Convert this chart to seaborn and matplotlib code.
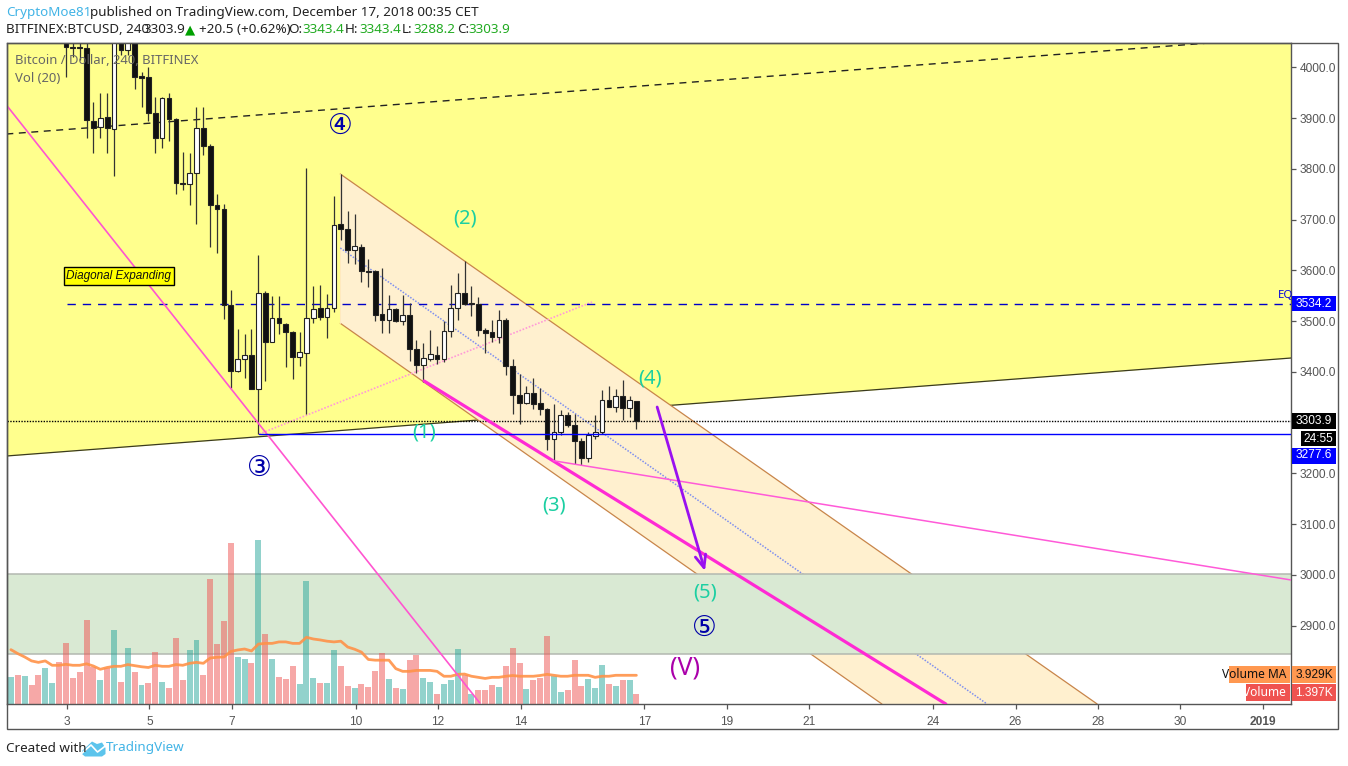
import numpy as np
import pandas as pd
import matplotlib
matplotlib.use('Agg')
import matplotlib.pyplot as plt
from matplotlib.patches import Rectangle, Polygon
import seaborn as sns

# Candles from the picture, bar 8 onwards (earlier bars sit above the visible range)
opens = [4060, 4040, 4040, 4039, 3895, 3882, 3903, 3878, 4060, 4035, 4060, 3982, 3981, 3911, 3860, 3940, 3898, 3773, 3771, 3791,
         3880, 3846, 3728, 3720, 3531, 3402, 3426, 3433, 3367, 3555, 3459, 3506, 3494, 3479, 3429, 3438, 3506, 3525, 3508, 3525,
         3691, 3681, 3641, 3647, 3599, 3598, 3515, 3502, 3523, 3500, 3513, 3446, 3413, 3426, 3434, 3426, 3480, 3525, 3555, 3535,
         3534, 3483, 3478, 3468, 3502, 3411, 3354, 3338, 3358, 3338, 3326, 3268, 3281, 3315, 3295, 3263, 3230, 3274, 3282, 3344,
         3331, 3353, 3328, 3343.4]
highs = [4120, 4100, 4100, 4060, 3932, 3949, 3949, 4100, 4100, 4100, 4100, 3991, 4001, 3941, 3941, 3949, 3900, 3834, 3831, 3922,
         3921, 3848, 3750, 3731, 3561, 3485, 3475, 3485, 3630, 3559, 3550, 3550, 3496, 3481, 3479, 3801, 3569, 3571, 3553, 3747,
         3790, 3716, 3711, 3652, 3622, 3600, 3605, 3551, 3525, 3551, 3536, 3462, 3456, 3483, 3452, 3500, 3571, 3594, 3618, 3569,
         3547, 3486, 3502, 3522, 3506, 3425, 3396, 3372, 3388, 3368, 3328, 3337, 3325, 3321, 3318, 3270, 3282, 3315, 3364, 3372,
         3366, 3384, 3353, 3343.4]
lows = [3981, 4021, 4014, 3860, 3832, 3861, 3832, 3786, 4024, 4024, 3957, 3922, 3895, 3832, 3842, 3855, 3750, 3758, 3729, 3691,
        3828, 3647, 3634, 3505, 3368, 3400, 3388, 3367, 3278, 3383, 3458, 3475, 3409, 3387, 3412, 3317, 3497, 3502, 3467, 3518,
        3660, 3615, 3613, 3577, 3568, 3500, 3477, 3477, 3498, 3492, 3422, 3397, 3381, 3422, 3416, 3420, 3469, 3502, 3532, 3511,
        3471, 3438, 3458, 3456, 3393, 3318, 3298, 3337, 3326, 3315, 3246, 3225, 3275, 3292, 3219, 3217, 3223, 3268, 3278, 3330,
        3322, 3305, 3312, 3288.2]
closes = [4041, 4038, 4038, 3896, 3881, 3901, 3880, 4060, 4035, 4060, 3980, 3979, 3911, 3860, 3940, 3898, 3773, 3771, 3791, 3880,
          3846, 3728, 3720, 3531, 3402, 3426, 3433, 3367, 3555, 3459, 3506, 3496, 3479, 3430, 3439, 3506, 3523, 3508, 3525, 3689,
          3681, 3641, 3649, 3598, 3596, 3513, 3502, 3523, 3500, 3513, 3446, 3413, 3427, 3435, 3425, 3480, 3525, 3555, 3534, 3533,
          3482, 3476, 3468, 3502, 3411, 3354, 3338, 3358, 3336, 3326, 3268, 3281, 3315, 3295, 3263, 3230, 3276, 3282, 3344, 3331,
          3353, 3328, 3345, 3303.9]

# Volume in thousands for all 92 bars, 1 = up bar colour, 0 = down bar colour
volumes = [3.7, 4.0, 3.8, 2.6, 4.0, 4.9, 2.9, 5.75, 8.35, 3.55, 4.4, 11.5, 5.1, 3.3, 4.9, 10.1, 3.0, 7.7, 4.4, 2.6, 2.9, 7.1, 3.0,
           2.2, 9.0, 3.3, 7.4, 8.8, 4.0, 17.1, 8.2, 11.4, 22.05, 6.4, 6.2, 5.6, 22.5, 9.6, 6.2, 3.7, 3.4, 5.2, 2.7, 16.85, 3.55, 2.9,
           2.9, 7.4, 5.2, 2.5, 2.2, 2.7, 2.3, 4.5, 7.0, 3.4, 2.2, 2.05, 6.0, 6.75, 3.55, 3.0, 1.4, 2.7, 3.3, 7.5, 4.0, 1.4, 1.9, 1.9,
           2.6, 2.3, 5.2, 7.7, 5.6, 2.05, 3.3, 3.55, 9.3, 3.8, 1.65, 1.9, 6.0, 2.5, 3.4, 2.2, 5.3, 2.7, 2.5, 3.3, 3.3, 1.4]
vol_up = [1, 0, 1, 0, 0, 1, 1, 0, 0, 0, 0, 0, 0, 1, 0, 1, 0, 1, 0, 1, 0, 0, 1,
          0, 0, 0, 1, 1, 0, 0, 0, 0, 0, 1, 1, 0, 1, 0, 1, 0, 0, 0, 1, 1, 1, 0,
          1, 1, 0, 0, 1, 0, 0, 0, 0, 1, 0, 1, 0, 0, 1, 1, 0, 1, 1, 1, 0, 1, 0, 0,
          0, 1, 0, 0, 0, 1, 0, 0, 0, 1, 1, 0, 0, 0, 1, 1, 1, 0, 1, 0, 1, 0]
vol_ma = [7.44, 6.9, 6.44, 5.9, 5.7, 5.9, 5.3, 5.3, 5.43, 5.3, 5.3, 5.5, 5.2, 4.75, 5.0, 5.16, 5.16, 5.4, 5.25, 5.1, 5.0, 5.3, 5.16,
          5.16, 5.4, 5.3, 5.57, 5.7, 5.57, 6.3, 6.4, 6.44, 7.2, 7.4, 7.53, 7.26, 8.2, 8.3, 8.3, 8.5, 8.5, 8.3, 8.3, 9.13, 8.9, 8.77,
          8.6, 8.5, 8.6, 7.8, 7.5, 7.1, 6.1, 6.0, 6.0, 6.0, 4.84, 4.47, 4.47, 4.6, 4.6, 4.6, 4.47, 3.8, 3.8, 4.06, 4.1, 3.8, 3.65, 3.5,
          3.65, 3.65, 3.8, 3.9, 3.8, 3.8, 3.8, 3.9, 4.06, 3.93, 3.8, 3.8, 3.93, 3.93, 3.93, 3.65, 3.8, 3.8, 3.93, 3.93, 3.93, 3.93]

first_bar_day = 1.64
hidden_bars = 8

price_ticks = [4000, 3900, 3800, 3700, 3600, 3500, 3400, 3200, 3100, 3000, 2900]
day_ticks = [3, 5, 7, 10, 12, 14, 17, 19, 21, 24, 26, 28, 30, 32]
day_labels = ['3', '5', '7', '10', '12', '14', '17', '19', '21', '24', '26', '28', '30', '2019']

# Drawing tools on the chart, day / price anchors
yellow_low_days = [1.53, 32.68]
yellow_low_prices = [3234.4, 3427.4]
dash_top_days = [1.53, 30.69]
dash_top_prices = [3868.6, 4047.9]
fan_days = [1.53, 13.01]
fan_prices = [3925.8, 2747.9]
channel_days = [9.627, 27.98, 22.76, 9.627]
channel_prices = [3789.8, 2745.9, 2745.9, 3495.8]
channel_mid_days = [9.627, 25.31]
channel_mid_prices = [3644.1, 2745.9]
thick_days = [11.66, 24.31]
thick_prices = [3382.1, 2745.9]
thin_days = [14.79, 32.68]
thin_prices = [3225.1, 2990.2]
pink_dot_days = [7.66, 15.73]
pink_dot_prices = [3277.7, 3537.7]
arrow_days = [17.31, 18.47]
arrow_prices = [3330.9, 3007.9]
eq_price = 3534.2
last_price = 3303.9
low_price = 3277.6
eq_start_day = 3.0
low_start_day = 7.66
zone_prices = [2844.4, 3002]

count_labels = ['(1)', '(2)', '(3)', '(4)', '(5)']
count_days = [11.66, 12.65, 14.81, 17.14, 18.47]
count_prices = [3280, 3703, 3136, 3388, 2965]
wave_labels = ['\u2462', '\u2463', '\u2464']
wave_days = [7.66, 9.62, 18.45]
wave_prices = [3211, 3884, 2896]

W, H = 1348, 766
x_left, x_right, y_top, y_bottom = 6.5, 1291, 43, 704
price_lim = (2745.9, 4047.9)
day_lim = (1.533, 32.68)
vol_lim = (0, 90.5)


def fx(x):
    return x / W


def fy(y):
    return 1 - y / H


def box(x0, y0, x1, y1, color):
    fig.add_artist(Rectangle((fx(x0), fy(y1)), (x1 - x0) / W, (y1 - y0) / H, transform=fig.transFigure,
                             facecolor=color, edgecolor='none', zorder=10))


def label(x, y, s, color='#222222', size=9.7, weight='normal', ha='left', family='Noto Sans', style='normal'):
    fig.text(fx(x), fy(y), s, color=color, fontsize=size, fontweight=weight, ha=ha, va='center',
             family=family, fontstyle=style, zorder=11)


sns.set_theme(style='white')
plt.rcParams['font.family'] = ['Liberation Sans', 'DejaVu Sans']

fig = plt.figure(figsize=(W / 100, H / 100), dpi=100, facecolor='white')
rect = [fx(x_left), fy(y_bottom), (x_right - x_left) / W, (y_bottom - y_top) / H]
ax_bg = fig.add_axes(rect, zorder=1)
ax_vol = fig.add_axes(rect, zorder=2)
ax = fig.add_axes(rect, zorder=3)
for a in (ax_bg, ax_vol, ax):
    a.patch.set_visible(False)
ax_bg.patch.set_visible(True)
ax_bg.set_facecolor('white')

# ----------------------------------------
# Background drawings
# ----------------------------------------
ax_bg.fill_between(yellow_low_days, yellow_low_prices, price_lim[1] + 100, color='#FFFF8D', lw=0, zorder=1)
ax_bg.plot(yellow_low_days, yellow_low_prices, color='#3A3A20', lw=0.9, zorder=2)
ax_bg.fill(channel_days, channel_prices, color='#FFF0CF', lw=0, zorder=3)
ax_bg.plot(channel_days[:2], channel_prices[:2], color='#C8854A', lw=0.9, zorder=4)
ax_bg.plot(channel_days[2:], channel_prices[2:], color='#C8854A', lw=0.9, zorder=4)
ax_bg.plot(channel_days[::3], channel_prices[::3], color='#FFE9C0', lw=0.7, zorder=4)
ax_bg.plot(channel_mid_days, channel_mid_prices, color='#7E8FEF', lw=1.1, ls=(0, (1, 1)), zorder=4)
ax_bg.axhspan(zone_prices[0], zone_prices[1], color='#D9E9D3', lw=0, zorder=5)
for p in zone_prices:
    ax_bg.axhline(p, color='#B3B8B0', lw=1.1, zorder=6)

# ----------------------------------------
# Volume pane
# ----------------------------------------
bar_days = first_bar_day + np.arange(len(volumes)) / 6
vol_df = pd.DataFrame({'day': bar_days, 'vol': volumes, 'up': vol_up})
sns.barplot(data=vol_df, x='day', y='vol', hue='up', palette={1: '#26A69A', 0: '#EF5350'}, dodge=False,
            native_scale=True, width=0.87, saturation=1, alpha=0.5, linewidth=0, legend=False, ax=ax_vol)
sns.lineplot(x=bar_days, y=vol_ma, color='#FF9248', lw=2.0, alpha=0.9, ax=ax_vol)

# ----------------------------------------
# Candles
# ----------------------------------------
candle_days = bar_days[hidden_bars:]
ax.vlines(candle_days, lows, highs, color='#333333', lw=0.9, zorder=5)
bottoms = np.minimum(opens, closes)
heights = np.maximum(np.abs(np.array(closes) - np.array(opens)), 1.0)
body_colors = ['#111111' if c < o else 'white' for o, c in zip(opens, closes)]
ax.bar(candle_days, heights, bottom=bottoms, width=0.115, color=body_colors, edgecolor='#222222', lw=0.8, zorder=6)

# ----------------------------------------
# Lines on top
# ----------------------------------------
ax.plot(dash_top_days, dash_top_prices, color='#222222', lw=1.0, ls=(0, (5, 4)), zorder=4)
ax.plot(fan_days, fan_prices, color='#FF55D0', lw=1.2, zorder=7)
ax.plot(pink_dot_days, pink_dot_prices, color='#FF9AD8', lw=1.2, ls=(0, (1, 1)), zorder=3)
ax.plot(thick_days, thick_prices, color='#FF2AD4', lw=2.3, zorder=7)
ax.plot(thin_days, thin_prices, color='#FF5AD8', lw=1.1, zorder=7)
ax.plot([eq_start_day, day_lim[1]], [eq_price, eq_price], color='#0000C8', lw=1.0, ls=(0, (6, 5)), zorder=4)
ax.axhline(last_price, color='black', lw=1.0, ls=(0, (1, 1)), zorder=4)
ax.plot([low_start_day, day_lim[1]], [low_price, low_price], color='#0000FF', lw=1.0, zorder=7)
ax.annotate('', xy=(arrow_days[1], arrow_prices[1]), xytext=(arrow_days[0], arrow_prices[0]),
            arrowprops=dict(arrowstyle='->,head_length=0.75,head_width=0.32', color='#9A10F0', lw=2.0,
                            shrinkA=0, shrinkB=0), zorder=8)

for s, d, p in zip(count_labels, count_days, count_prices):
    ax.text(d, p, s, color='#1CCFA2', fontsize=14.5, ha='center', va='center', family='Noto Sans', zorder=9)
for s, d, p in zip(wave_labels, wave_days, wave_prices):
    ax.text(d, p, s, color='#0000A8', fontsize=20, ha='center', va='center', family='DejaVu Sans', zorder=9)
ax.text(17.99, 2817, '(V)', color='#AA00AA', fontsize=18, fontweight='bold', ha='center', va='center',
        family='Noto Sans', zorder=9)
ax.text(3.26 + 0.99, 3589, 'Diagonal Expanding', color='#111111', fontsize=8.5, fontstyle='italic', ha='center',
        va='center', zorder=9, bbox=dict(boxstyle='square,pad=0.22', fc='#FFFF00', ec='black', lw=1.0))

# ----------------------------------------
# Axes
# ----------------------------------------
for a in (ax_bg, ax_vol, ax):
    a.set_xlim(*day_lim)
    a.set_xlabel('')
    a.set_ylabel('')
ax_bg.set_ylim(*price_lim)
ax.set_ylim(*price_lim)
ax_vol.set_ylim(*vol_lim)
ax_bg.axis('off')
ax_vol.axis('off')

ax.yaxis.tick_right()
ax.set_yticks(price_ticks)
ax.set_yticklabels([f'{v:.1f}' for v in price_ticks])
ax.set_xticks(day_ticks)
ax.set_xticklabels(day_labels)
ax.tick_params(axis='y', length=3.5, width=0.9, color='#555555', labelcolor='#555555', labelsize=8.6, pad=2.5, right=True)
ax.tick_params(axis='x', length=3.5, width=0.9, color='#555555', labelcolor='#555555', labelsize=8.6, pad=5, bottom=True)
ax.get_xticklabels()[-1].set_fontweight('bold')
for s in ax.spines.values():
    s.set_color('#555555')
    s.set_linewidth(1.0)
    s.set_visible(True)
# outer frame round the price and time scales
fig.add_artist(Rectangle((fx(6.5), fy(729)), (1337.5 - 6.5) / W, (729 - 43) / H, transform=fig.transFigure,
                         fill=False, edgecolor='#555555', lw=1.0, zorder=9))

# ----------------------------------------
# Price tags on the scale
# ----------------------------------------
tag_size = 8.6
box(1292, 296, 1336, 311, '#0000FF')
label(1314, 303.5, '3534.2', 'white', tag_size, ha='center', family='Liberation Sans')
box(1292, 413, 1336, 429, '#000000')
label(1314, 421, '3303.9', 'white', tag_size, ha='center', family='Liberation Sans')
box(1301, 430.5, 1336, 446, '#000000')
label(1318.5, 438.5, '24:55', 'white', tag_size, ha='center', family='Liberation Sans')
box(1292, 447.5, 1336, 463.5, '#0000FF')
label(1314, 455.5, '3277.6', 'white', tag_size, ha='center', family='Liberation Sans')
box(1229, 666, 1290, 683, '#FF9850')
box(1292, 666, 1336, 683, '#FF9850')
label(1286, 674.5, 'Volume MA', '#111111', tag_size, ha='right', family='Noto Sans')
label(1314, 674.5, '3.929K', '#111111', tag_size, ha='center', family='Liberation Sans')
box(1246, 684, 1290, 701, '#EF5350')
box(1292, 684, 1336, 701, '#EF5350')
label(1286, 692.5, 'Volume', 'white', tag_size, ha='right', family='Noto Sans')
label(1314, 692.5, '1.397K', 'white', tag_size, ha='center', family='Liberation Sans')
label(1278, 296, 'EQ', '#0000DD', 8.2, family='Noto Sans')

# ----------------------------------------
# Header, legend and footer text
# ----------------------------------------
label(6.5, 12.5, 'CryptoMoe81', '#42B4E6')
label(90.5, 12.5, 'published on TradingView.com, December 17, 2018 00:35 CET')
label(6.5, 29.5, 'BITFINEX:BTCUSD, 240', weight='bold')
label(143.5, 29.5, '3303.9')
label(185, 29.5, '\u25b2', '#00A000', 9.5, family='DejaVu Sans')
label(199, 29.5, '+20.5 (+0.62%)')
green = '#22AB22'
for x_name, name, x_val, val in [(288.5, 'O:', 302, '3343.4'), (345, 'H:', 359, '3343.4'),
                                 (402, 'L:', 413.5, '3288.2'), (457, 'C:', 468, '3303.9')]:
    label(x_name, 29.5, name, weight='bold')
    label(x_val, 29.5, val, green)
label(15, 61, 'Bitcoin / Dollar, 240, BITFINEX', '#666666', 9.4, weight='bold')
label(15, 78, 'Vol (20)', '#666666', 9.4)
label(6.5, 748, 'Created with')
label(106, 748, 'TradingView', '#42B4E6')
fig.add_artist(Polygon([(fx(a), fy(b)) for a, b in [(82, 751), (92, 741.5), (97, 744), (102, 742.5), (105.5, 748),
                                                    (105.5, 754), (102, 756.5), (85, 756.5), (82, 754)]],
                       transform=fig.transFigure, facecolor='#5CC4EC', edgecolor='none', zorder=10))
fig.add_artist(plt.Line2D([fx(81), fx(91), fx(97.5), fx(106)], [fy(754), fy(745), fy(752), fy(745.5)],
                          transform=fig.transFigure, color='white', lw=1.2, zorder=11))

fig.savefig('out.png', dpi=100)
